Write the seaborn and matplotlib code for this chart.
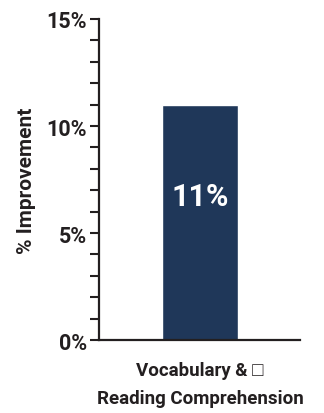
import pandas as pd
import numpy as np
import seaborn as sns
import matplotlib.pyplot as plt
from matplotlib.ticker import MultipleLocator, PercentFormatter

sns.set_theme(style="white")
plt.rcParams['font.family'] = ['Roboto', 'Liberation Sans', 'DejaVu Sans']
plt.rcParams['font.weight'] = 'bold'

categories = ["Vocabulary & \u25a1\nReading Comprehension"]
improvement = [11]
bar_labels = ["11%"]

df = pd.DataFrame({"Category": categories, "Improvement": improvement})

ink = "#231f20"
navy = "#1f3759"

fig = plt.figure(figsize=(3.24, 4.14), dpi=100)
ax = fig.add_axes([0.3056, 0.1763, 0.6204, 0.7754])

sns.barplot(data=df, x="Category", y="Improvement", color=navy,
            saturation=1, width=0.8, ax=ax)

for i, (v, lab) in enumerate(zip(improvement, bar_labels)):
    ax.text(i, v * 0.61, lab, color="white", fontsize=22, fontweight="bold",
            ha="center", va="center")

ax.set_ylim(0, 15)
ax.set_xlim(-1.05, 1.04)
ax.yaxis.set_major_locator(MultipleLocator(5))
ax.yaxis.set_minor_locator(MultipleLocator(1))
ax.yaxis.set_major_formatter(PercentFormatter(decimals=0))

ax.tick_params(axis="y", which="both", left=True, length=6.5, width=1.5,
               color=ink, labelsize=15.5, labelcolor=ink, pad=2)
ax.tick_params(axis="x", bottom=False, labelsize=13.5, labelcolor=ink, pad=9)
for lab in ax.get_xticklabels():
    lab.set_linespacing(1.75)
    lab.set_fontweight("bold")
for lab in ax.get_yticklabels():
    lab.set_fontweight("bold")

ax.set_xlabel("")
ax.set_ylabel("% Improvement", fontsize=15, fontweight="bold", color=ink,
              labelpad=8)

for s in ["top", "right"]:
    ax.spines[s].set_visible(False)
for s in ["left", "bottom"]:
    ax.spines[s].set_color(ink)
    ax.spines[s].set_linewidth(1.6)

plt.savefig("out.png", dpi=100)
